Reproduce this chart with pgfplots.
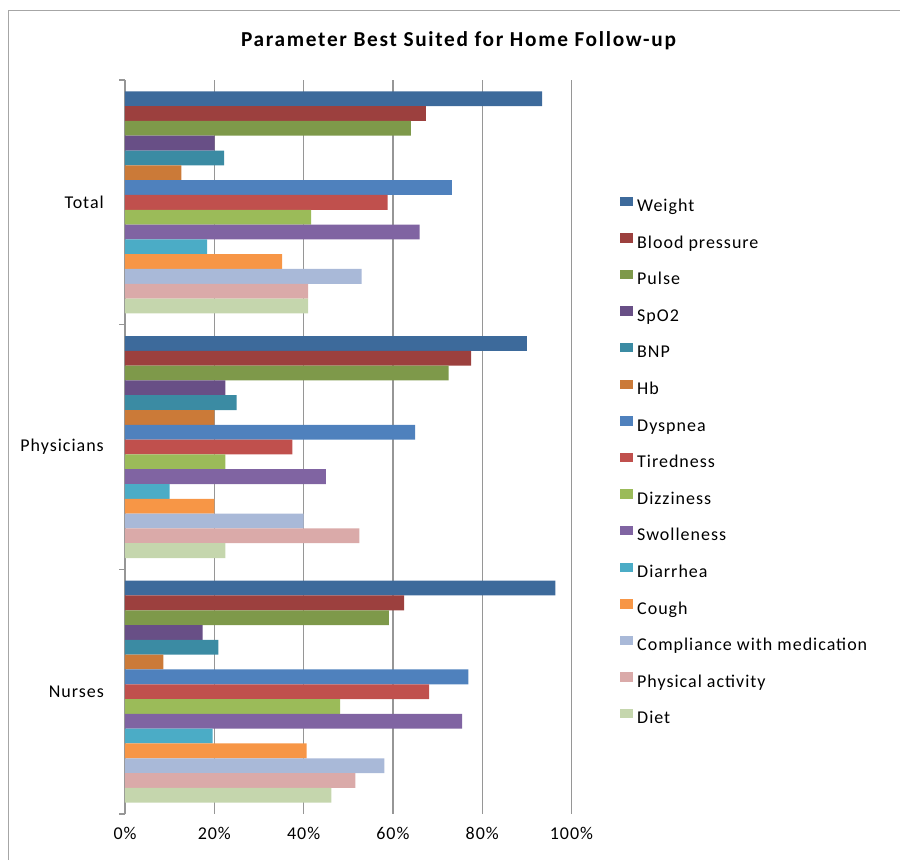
\documentclass[border=0pt]{standalone}
\usepackage{fontspec}
\setmainfont{Carlito}[LetterSpace=5.5]
\newfontfamily\titlefont{Carlito}[LetterSpace=8]
\usepackage{pgfplots}
\usepackage{pgfplotstable}
\pgfplotsset{compat=1.18}

% Office 2007 palette: dark, base and light shades
\definecolor{cWeight}{HTML}{3D6A9B}
\definecolor{cBP}{HTML}{9C403E}
\definecolor{cPulse}{HTML}{7E994A}
\definecolor{cSpO}{HTML}{684F86}
\definecolor{cBNP}{HTML}{3B8BA3}
\definecolor{cHb}{HTML}{CB7A38}
\definecolor{cDysp}{HTML}{4F81BD}
\definecolor{cTired}{HTML}{C0504D}
\definecolor{cDizz}{HTML}{9BBB59}
\definecolor{cSwoll}{HTML}{8064A2}
\definecolor{cDiarr}{HTML}{4BACC6}
\definecolor{cCough}{HTML}{F79646}
\definecolor{cCompl}{HTML}{A9B9D8}
\definecolor{cPhys}{HTML}{DAAAA9}
\definecolor{cDiet}{HTML}{C5D6AD}
\definecolor{axgray}{HTML}{969696}
\definecolor{framegray}{HTML}{A6A6A6}

% share of answers (%) per group: 0 = Total, 1 = Physicians, 2 = Nurses
\pgfplotstableread{
grp Weight Blood Pulse SpO Bnp Hb Dysp Tired Dizz Swoll Diarr Cough Compl Phys Diet
0   93.4   67.4  64.0  20.1 22.2 12.6 73.2 58.8 41.7 66.0  18.4  35.2  53.0  41.0 41.0
1   90.0   77.5  72.5  22.5 25.0 20.0 65.0 37.5 22.5 45.0  10.0  20.0  40.0  52.5 22.5
2   96.4   62.5  59.1  17.4 20.9  8.6 76.9 68.1 48.2 75.5  19.6  40.7  58.1  51.6 46.2
}\datatable

\begin{document}
\begin{tikzpicture}
\path[use as bounding box] (0pt,0pt) rectangle (900pt,-860pt);
\draw[color=framegray, line width=1pt] (8pt,-860pt) -- (8pt,-10pt) -- (900pt,-10pt);
\node[font=\titlefont\fontsize{21.3}{25}\selectfont\bfseries] at (458.5pt,-40.5pt)
  {Parameter Best Suited for Home Follow-up};
\begin{axis}[
  at={(125pt,-814pt)}, anchor=south west,
  scale only axis, width=446.5pt, height=734pt,
  xbar, bar width=0.0605,
  xmin=0, xmax=100, ymin=-0.5, ymax=2.5, y dir=reverse,
  axis lines*=left,
  x axis line style={draw=none},
  y axis line style={color=axgray, line width=1.2pt},
  tick style={color=axgray, line width=1.2pt},
  tick align=outside,
  major tick length=0pt, minor tick length=6pt,
  xtick={0,20,...,100},
  xticklabel={\pgfmathprintnumber{\tick}\%},
  ytick={0,1,2}, yticklabels={Total,Physicians,Nurses},
  minor ytick={-0.5,0.5,1.5,2.5},
  xmajorgrids, grid style={color=axgray, line width=1.3pt},
  /pgf/number format/assume math mode=true,
  tick label style={font=\fontsize{18}{21}\selectfont, inner sep=0pt},
  x tick label style={anchor=north, yshift=-13pt},
  y tick label style={anchor=east, xshift=-21pt},
  legend cell align=left,
  legend image code/.code={\fill[#1] (0pt,1pt) rectangle (13pt,10.5pt);},
  legend style={at={(1.1086,0.480)}, anchor=west, draw=none, fill=none,
    font=\fontsize{18}{21}\selectfont, row sep=18.6pt, column sep=4pt,
    inner sep=0pt,
    nodes={inner sep=0pt, text height=12pt, text depth=3pt, anchor=west}},
]
\addplot[fill=cWeight, draw=none, bar shift=-0.4235] table[x=Weight, y=grp]{\datatable};
\addlegendentry{Weight}
\addplot[fill=cBP,     draw=none, bar shift=-0.3630] table[x=Blood,  y=grp]{\datatable};
\addlegendentry{Blood pressure}
\addplot[fill=cPulse,  draw=none, bar shift=-0.3025] table[x=Pulse,  y=grp]{\datatable};
\addlegendentry{Pulse}
\addplot[fill=cSpO,    draw=none, bar shift=-0.2420] table[x=SpO,    y=grp]{\datatable};
\addlegendentry{SpO2}
\addplot[fill=cBNP,    draw=none, bar shift=-0.1815] table[x=Bnp,    y=grp]{\datatable};
\addlegendentry{BNP}
\addplot[fill=cHb,     draw=none, bar shift=-0.1210] table[x=Hb,     y=grp]{\datatable};
\addlegendentry{Hb}
\addplot[fill=cDysp,   draw=none, bar shift=-0.0605] table[x=Dysp,   y=grp]{\datatable};
\addlegendentry{Dyspnea}
\addplot[fill=cTired,  draw=none, bar shift=0]       table[x=Tired,  y=grp]{\datatable};
\addlegendentry{Tiredness}
\addplot[fill=cDizz,   draw=none, bar shift=0.0605]  table[x=Dizz,   y=grp]{\datatable};
\addlegendentry{Dizziness}
\addplot[fill=cSwoll,  draw=none, bar shift=0.1210]  table[x=Swoll,  y=grp]{\datatable};
\addlegendentry{Swolleness}
\addplot[fill=cDiarr,  draw=none, bar shift=0.1815]  table[x=Diarr,  y=grp]{\datatable};
\addlegendentry{Diarrhea}
\addplot[fill=cCough,  draw=none, bar shift=0.2420]  table[x=Cough,  y=grp]{\datatable};
\addlegendentry{Cough}
\addplot[fill=cCompl,  draw=none, bar shift=0.3025]  table[x=Compl,  y=grp]{\datatable};
\addlegendentry{Compliance with medication}
\addplot[fill=cPhys,   draw=none, bar shift=0.3630]  table[x=Phys,   y=grp]{\datatable};
\addlegendentry{Physical activity}
\addplot[fill=cDiet,   draw=none, bar shift=0.4235]  table[x=Diet,   y=grp]{\datatable};
\addlegendentry{Diet}
\end{axis}
\end{tikzpicture}
\end{document}
